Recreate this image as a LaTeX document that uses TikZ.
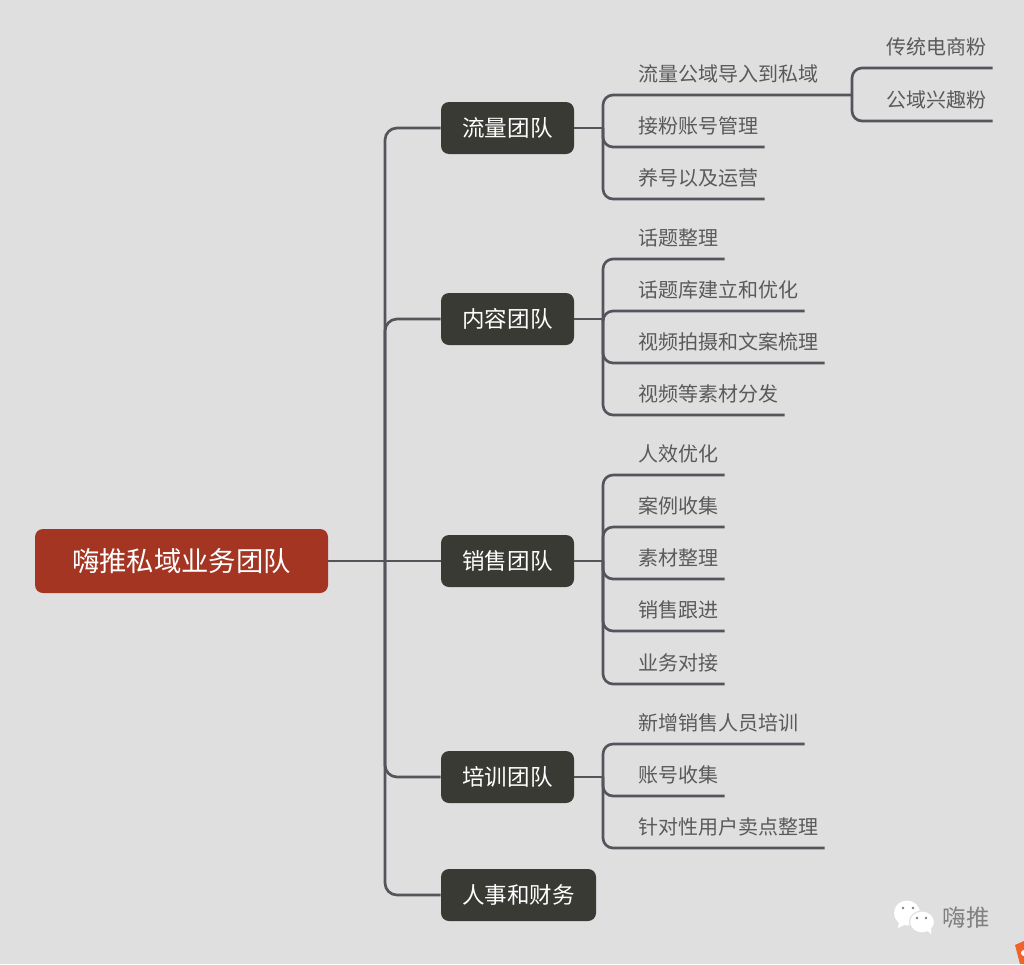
\documentclass[tikz,border=0pt]{standalone}
\usepackage{fontspec}
\setmainfont{Noto Sans CJK SC}

\definecolor{bgcol}{HTML}{DFDFDF}
\definecolor{rootcol}{HTML}{A33522}
\definecolor{teamcol}{HTML}{393A33}
\definecolor{linkcol}{HTML}{54555A}
\definecolor{leafcol}{HTML}{5A5A5A}
\definecolor{markcol}{HTML}{808080}
\definecolor{tagcol}{HTML}{F2622B}

\tikzset{
  rootbox/.style={fill=rootcol, text=white, rounded corners=6pt, inner sep=0pt,
    minimum width=219.75pt, minimum height=48pt, font=\fontsize{20.5}{24}\selectfont},
  teambox/.style={fill=teamcol, text=white, rounded corners=6pt, inner sep=0pt,
    minimum width=99.75pt, minimum height=39pt, font=\fontsize{16.9}{20}\selectfont},
  leaf/.style={anchor=south west, text=leafcol, inner xsep=4.5pt, inner ysep=0pt,
    minimum height=30.75pt, font=\fontsize{15}{18}\selectfont},
  link/.style={draw=linkcol, line width=2pt},
  buslink/.style={link, rounded corners=9pt},
  leaflink/.style={link, rounded corners=7.5pt}
}

\begin{document}
\begin{tikzpicture}[x=0.75pt, y=-0.75pt]
  \useasboundingbox (0,0) rectangle (1024,964);
  \fill[bgcol] (0,0) rectangle (1024,964);

  \node[rootbox] (root) at (181.5,561) {嗨推私域业务团队};

  \node[teambox] (flow) at (507.5,128) {流量团队};
  \node[teambox] (content) at (507.5,319) {内容团队};
  \node[teambox] (sales) at (507.5,561) {销售团队};
  \node[teambox] (train) at (507.5,777) {培训团队};
  \node[teambox, minimum width=116.25pt] (staff) at (518.5,895) {人事和财务};

  \node[leaf] (flowa) at (632,95) {流量公域导入到私域};
  \node[leaf] (flowb) at (632,147) {接粉账号管理};
  \node[leaf] (flowc) at (632,199) {养号以及运营};
  \node[leaf] (fana) at (880,68) {传统电商粉};
  \node[leaf] (fanb) at (880,121) {公域兴趣粉};

  \node[leaf] (conta) at (632,259) {话题整理};
  \node[leaf] (contb) at (632,311) {话题库建立和优化};
  \node[leaf] (contc) at (632,363) {视频拍摄和文案梳理};
  \node[leaf] (contd) at (632,415) {视频等素材分发};

  \node[leaf] (salea) at (632,475) {人效优化};
  \node[leaf] (saleb) at (632,527) {案例收集};
  \node[leaf] (salec) at (632,579) {素材整理};
  \node[leaf] (saled) at (632,631) {销售跟进};
  \node[leaf] (salee) at (632,684) {业务对接};

  \node[leaf] (traina) at (632,744) {新增销售人员培训};
  \node[leaf] (trainb) at (632,796) {账号收集};
  \node[leaf] (trainc) at (632,848) {针对性用户卖点整理};

  % main bus
  \coordinate (bus) at (385,561);
  \draw[link] (root.east) -- (sales.west);
  \draw[buslink] (bus) |- (flow.west);
  \draw[buslink] (bus) |- (content.west);
  \draw[buslink] (bus) |- (train.west);
  \draw[buslink] (bus) |- (staff.west);

  % team 1
  \coordinate (flowj) at (603,128);
  \coordinate (fanj) at (852,95);
  \draw[link] (flow.east) -- (flowj);
  \draw[leaflink] (flowj) |- (fanj);
  \draw[leaflink] (flowj) |- (flowb.south east);
  \draw[leaflink] (flowj) |- (flowc.south east);
  \draw[leaflink] (fanj) |- (fana.south east);
  \draw[leaflink] (fanj) |- (fanb.south east);

  % team 2
  \coordinate (contj) at (603,319);
  \draw[link] (content.east) -- (contj);
  \draw[leaflink] (contj) |- (conta.south east);
  \draw[leaflink] (contj) |- (contb.south east);
  \draw[leaflink] (contj) |- (contc.south east);
  \draw[leaflink] (contj) |- (contd.south east);

  % team 3
  \coordinate (salej) at (603,561);
  \draw[link] (sales.east) -- (salej);
  \draw[leaflink] (salej) |- (salea.south east);
  \draw[leaflink] (salej) |- (saleb.south east);
  \draw[leaflink] (salej) |- (salec.south east);
  \draw[leaflink] (salej) |- (saled.south east);
  \draw[leaflink] (salej) |- (salee.south east);

  % team 4
  \coordinate (trainj) at (603,777);
  \draw[link] (train.east) -- (trainj);
  \draw[leaflink] (trainj) |- (traina.south east);
  \draw[leaflink] (trainj) |- (trainb.south east);
  \draw[leaflink] (trainj) |- (trainc.south east);

  % watermark
  \fill[white] (907,913) ellipse (13 and 12.5);
  \fill[white] (899,922) -- (898,928) -- (906,924) -- cycle;
  \fill[white, draw=bgcol, line width=0.8pt] (922,922) ellipse (12.5 and 11);
  \fill[white] (927,930) -- (931,934) -- (931,927) -- cycle;
  \fill[gray] (903,908) circle (1.4) (913,908) circle (1.4) (917,918) circle (1.4) (926,918) circle (1.4);
  \node[text=markcol, font=\fontsize{17.5}{20}\selectfont] (mark) at (966,918) {嗨推};

  \fill[tagcol] (1015,945) -- (1024,941) -- (1024,964) -- (1020,964) -- cycle;
  \fill[white] (1024,953) circle (3);
\end{tikzpicture}
\end{document}
